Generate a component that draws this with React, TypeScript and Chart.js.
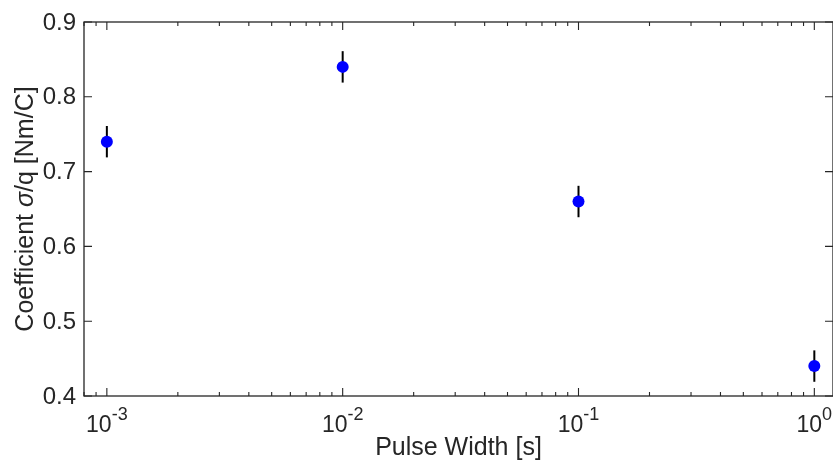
import React, { useEffect, useRef } from "react";
import { Chart, registerables } from "chart.js";

Chart.register(...registerables);

const pulseWidths = [0.001, 0.01, 0.1, 1];
const coefficients = [0.74, 0.84, 0.66, 0.44];
const errors = [0.021, 0.021, 0.021, 0.021];
const yTicks = [0.4, 0.5, 0.6, 0.7, 0.8, 0.9];
const xMajorExps = [-3, -2, -1, 0];
const xTitle = "Pulse Width [s]";

const AXIS_COLOR = "#262626";
const FONT = "Liberation Sans, Arial, Helvetica, sans-serif";

const axesPlugin = {
  id: "matlabAxes",
  beforeDatasetsDraw(chart: any) {
    const ctx = chart.ctx;
    const x = chart.scales.x;
    const y = chart.scales.y;
    ctx.save();
    ctx.strokeStyle = "#000";
    ctx.lineWidth = 2;
    pulseWidths.forEach((pw, i) => {
      const px = x.getPixelForValue(pw);
      ctx.beginPath();
      ctx.moveTo(px, y.getPixelForValue(coefficients[i] - errors[i]));
      ctx.lineTo(px, y.getPixelForValue(coefficients[i] + errors[i]));
      ctx.stroke();
    });
    ctx.restore();
  },
  afterDraw(chart: any) {
    const ctx = chart.ctx;
    const a = chart.chartArea;
    const x = chart.scales.x;
    const y = chart.scales.y;
    ctx.save();
    ctx.strokeStyle = AXIS_COLOR;
    ctx.lineWidth = 1.3;
    ctx.strokeRect(a.left, a.top, a.right - a.left, a.bottom - a.top);
    ctx.lineWidth = 1.1;
    yTicks.forEach((v) => {
      const py = y.getPixelForValue(v);
      ctx.beginPath();
      ctx.moveTo(a.left, py);
      ctx.lineTo(a.left + 8, py);
      ctx.moveTo(a.right, py);
      ctx.lineTo(a.right - 8, py);
      ctx.stroke();
    });
    for (let e = -4; e <= 0; e++) {
      for (let m = 1; m <= 9; m++) {
        const v = m * Math.pow(10, e);
        if (v < x.min || v > x.max) continue;
        const px = x.getPixelForValue(v);
        const len = m === 1 ? 8 : 4;
        ctx.beginPath();
        ctx.moveTo(px, a.bottom);
        ctx.lineTo(px, a.bottom - len);
        ctx.moveTo(px, a.top);
        ctx.lineTo(px, a.top + len);
        ctx.stroke();
      }
    }
    ctx.fillStyle = AXIS_COLOR;
    ctx.font = `24px ${FONT}`;
    ctx.textAlign = "right";
    ctx.textBaseline = "middle";
    yTicks.forEach((v) => {
      ctx.fillText(v.toFixed(1), a.left - 8, y.getPixelForValue(v) + 1);
    });
    ctx.textBaseline = "alphabetic";
    xMajorExps.forEach((e) => {
      const px = x.getPixelForValue(Math.pow(10, e));
      ctx.font = `23px ${FONT}`;
      const base = "10";
      const bw = ctx.measureText(base).width;
      ctx.font = `18px ${FONT}`;
      const exp = String(e);
      const ew = ctx.measureText(exp).width;
      const start = px - (bw + ew) / 2;
      ctx.textAlign = "left";
      ctx.font = `23px ${FONT}`;
      ctx.fillText(base, start, a.bottom + 36);
      ctx.font = `18px ${FONT}`;
      ctx.fillText(exp, start + bw, a.bottom + 24);
    });
    ctx.font = `25px ${FONT}`;
    ctx.textAlign = "center";
    ctx.fillText(xTitle, (a.left + a.right) / 2, a.bottom + 59);
    ctx.translate(a.left - 51, (a.top + a.bottom) / 2);
    ctx.rotate(-Math.PI / 2);
    const p1 = "Coefficient ";
    const p2 = "σ";
    const p3 = "/q [Nm/C]";
    ctx.font = `25px ${FONT}`;
    const w1 = ctx.measureText(p1).width;
    const w3 = ctx.measureText(p3).width;
    ctx.font = `italic 25px ${FONT}`;
    const w2 = ctx.measureText(p2).width;
    let sx = -(w1 + w2 + w3) / 2;
    ctx.textAlign = "left";
    ctx.font = `25px ${FONT}`;
    ctx.fillText(p1, sx, 0);
    sx += w1;
    ctx.font = `italic 25px ${FONT}`;
    ctx.fillText(p2, sx, 0);
    sx += w2;
    ctx.font = `25px ${FONT}`;
    ctx.fillText(p3, sx, 0);
    ctx.restore();
  },
};

export default function App() {
  const ref = useRef<HTMLCanvasElement | null>(null);
  useEffect(() => {
    if (!ref.current) return;
    const chart = new Chart(ref.current, {
      type: "scatter",
      data: {
        datasets: [
          {
            data: pulseWidths.map((p, i) => ({ x: p, y: coefficients[i] })),
            backgroundColor: "#0000ff",
            borderColor: "#0000ff",
            pointRadius: 6,
            pointBorderWidth: 0,
          },
        ],
      },
      options: {
        animation: false,
        responsive: false,
        maintainAspectRatio: false,
        layout: { padding: { left: 84, top: 22, right: 0, bottom: 67 } },
        plugins: { legend: { display: false }, tooltip: { enabled: false } },
        scales: {
          x: {
            type: "logarithmic",
            min: 0.0008,
            max: 1.2,
            ticks: { display: false },
            grid: { display: false, drawTicks: false },
            border: { display: false },
          },
          y: {
            type: "linear",
            min: 0.4,
            max: 0.9,
            ticks: { display: false },
            grid: { display: false, drawTicks: false },
            border: { display: false },
          },
        },
      },
      plugins: [axesPlugin],
    } as any);
    return () => chart.destroy();
  }, []);
  return (
    <div style={{ position: "fixed", left: 0, top: 0, width: 833, height: 463, overflow: "hidden", background: "#fff" }}>
      <canvas ref={ref} width={839} height={463} style={{ width: 839, height: 463, display: "block" }} />
    </div>
  );
}
